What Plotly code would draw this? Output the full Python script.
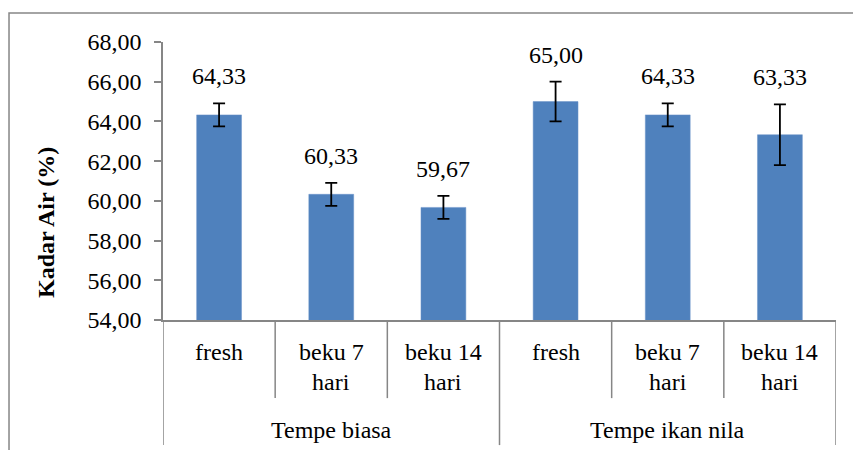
import plotly.graph_objects as go

# ---- data ----
sub_labels = ["fresh", "beku 7<br>hari", "beku 14<br>hari", "fresh", "beku 7<br>hari", "beku 14<br>hari"]
group_labels = ["Tempe biasa", "Tempe ikan nila"]
values = [64.33, 60.33, 59.67, 65.00, 64.33, 63.33]
errors = [0.58, 0.58, 0.58, 1.00, 0.58, 1.53]
value_text = ["64,33", "60,33", "59,67", "65,00", "64,33", "63,33"]
y_ticks = [54, 56, 58, 60, 62, 64, 66, 68]

FONT = "Liberation Serif, Times New Roman, serif"
FS = 24
AXIS_COLOR = "#868686"
x_idx = list(range(len(values)))

fig = go.Figure()
fig.add_trace(go.Bar(
    x=x_idx, y=values,
    marker=dict(color="#4F81BD", line=dict(color="#6A93C8", width=0.5)),
    width=0.4,
    error_y=dict(type="data", array=errors, visible=True, color="black", thickness=1.8, width=6),
    hoverinfo="skip",
))

annotations = []
# value labels above error bars
for i, (v, e, t) in enumerate(zip(values, errors, value_text)):
    annotations.append(dict(x=i, y=v + e, xref="x", yref="y", text=t, showarrow=False,
                            yanchor="middle", yshift=27, font=dict(family=FONT, size=FS, color="black")))

# sub category labels (two lines handled separately)
for i, lab in enumerate(sub_labels):
    lines = lab.split("<br>")
    for j, ln in enumerate(lines):
        annotations.append(dict(x=i, y=[-0.115, -0.223][j], xref="x", yref="paper", text=ln,
                                showarrow=False, yanchor="middle",
                                font=dict(family=FONT, size=FS, color="black")))

# group labels
n_per_group = len(values) // len(group_labels)
for g, lab in enumerate(group_labels):
    annotations.append(dict(x=g * n_per_group + (n_per_group - 1) / 2, y=-0.396, xref="x", yref="paper",
                            text=lab, showarrow=False, yanchor="middle",
                            font=dict(family=FONT, size=FS, color="black")))

# y axis title
annotations.append(dict(x=-0.174, y=0.3525, xref="paper", yref="paper", text="<b>Kadar Air (%)</b>",
                        textangle=-90, showarrow=False, xanchor="center", yanchor="middle",
                        font=dict(family=FONT, size=FS, color="black")))

shapes = []
# category separators
for k in range(len(values) + 1):
    b = k - 0.5
    long_line = (k % n_per_group == 0)
    shapes.append(dict(type="line", xref="x", yref="paper", x0=b, x1=b, y0=0,
                       y1=-0.45 if long_line else -0.281,
                       line=dict(color=AXIS_COLOR, width=1.5)))
# chart border
shapes.append(dict(type="rect", xref="paper", yref="paper", x0=-0.2288, x1=1.04, y0=-0.52, y1=1.1043,
                   line=dict(color=AXIS_COLOR, width=1.5), fillcolor="rgba(0,0,0,0)", layer="below"))

fig.update_layout(
    width=853, height=450,
    margin=dict(l=163, r=17, t=42, b=130),
    paper_bgcolor="white", plot_bgcolor="white",
    showlegend=False,
    separators=", ",
    annotations=annotations,
    shapes=shapes,
    xaxis=dict(range=[-0.5, 5.5], showticklabels=False, ticks="", showgrid=False, zeroline=False,
               showline=True, linecolor=AXIS_COLOR, linewidth=1.5, fixedrange=True),
    yaxis=dict(range=[54, 68], tickvals=y_ticks, tickformat=".2f", showgrid=False, zeroline=False,
               showline=True, linecolor=AXIS_COLOR, linewidth=1.5, ticks="outside", ticklen=7,
               tickcolor=AXIS_COLOR, tickwidth=1.5, ticklabelstandoff=8,
               tickfont=dict(family=FONT, size=FS, color="black"), fixedrange=True),
)

fig.write_html("out.html", config={"displayModeBar": False},
               post_script="document.body.style.margin='0';")
